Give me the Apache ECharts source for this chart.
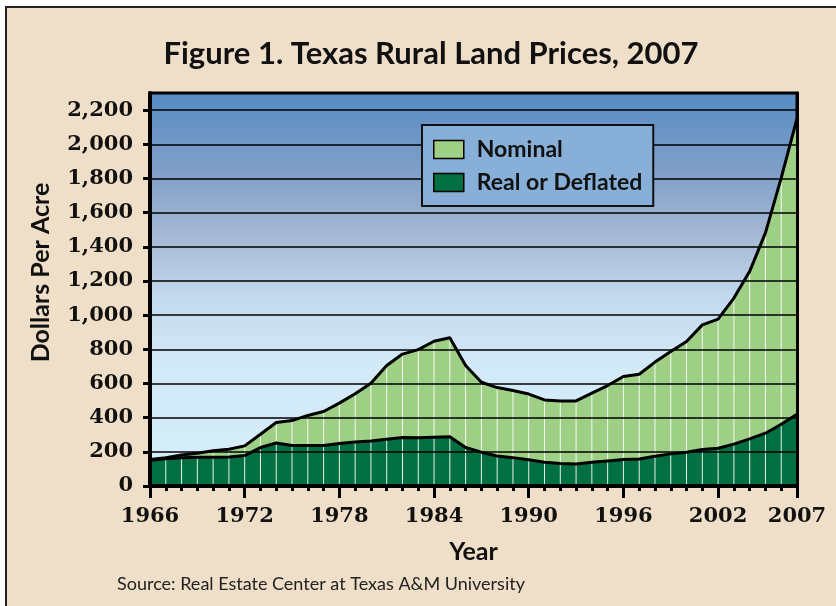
<!DOCTYPE html>
<html><head><meta charset="utf-8">
<script src="https://cdn.jsdelivr.net/npm/echarts@6/dist/echarts.min.js"></script>
<style>html,body{margin:0;padding:0;background:#fff}#c{width:836px;height:606px}</style>
</head><body><div id="c"></div>
<script>
const years = ['1966','1967','1968','1969','1970','1971','1972','1973','1974','1975','1976','1977','1978','1979','1980','1981','1982','1983','1984','1985','1986','1987','1988','1989','1990','1991','1992','1993','1994','1995','1996','1997','1998','1999','2000','2001','2002','2003','2004','2005','2006','2007'];
const nominal = [155,166,182,192,206,215,235,303,372,383,413,436,485,540,602,705,772,798,847,868,705,607,576,559,538,504,498,498,543,588,641,654,725,787,846,943,977,1100,1256,1481,1803,2150];
const real = [150,160,166,168,168,170,178,225,252,237,237,237,249,257,264,274,284,282,286,288,225,198,176,166,153,139,131,129,139,147,155,158,174,188,198,213,221,245,276,309,361,420];
const yTicks = [0,200,400,600,800,1000,1200,1400,1600,1800,2000,2200];
const xLabelYears = ['1966','1972','1978','1984','1990','1996','2002','2007'];

const lightGreen = '#9dcf84';
const darkGreen = '#006f41';
const serifBold = {fontFamily:'DejaVu Serif', fontWeight:'bold', fontSize:21, color:'#111'};
const sansBold = {fontFamily:'Lato', fontWeight:'bold', color:'#111'};

const chart = echarts.init(document.getElementById('c'));
chart.setOption({
  animation:false,
  backgroundColor:'#fff',
  graphic:{elements:[{type:'rect', z:-100, shape:{x:6,y:7,width:840,height:610}, style:{fill:'#efdfc9', stroke:'#222', lineWidth:2}}]},
  title:[
    {text:'Figure 1. Texas Rural Land Prices, 2007', left:426, top:33, textAlign:'center',
     textStyle:Object.assign({fontSize:31}, sansBold)},
    {text:'Source: Real Estate Center at Texas A&M University', left:112, top:570,
     textStyle:{fontFamily:'Lato', fontWeight:'normal', fontSize:18, color:'#222'}}
  ],
  legend:{
    data:['Nominal','Real or Deflated'], orient:'vertical', left:422, top:125,
    icon:'rect', itemWidth:30, itemHeight:18, itemGap:10,
    padding:[13,11,12,11],
    backgroundColor:'#87afd7', borderColor:'#111', borderWidth:2,
    itemStyle:{borderColor:'#000', borderWidth:1.5},
    textStyle:Object.assign({fontSize:23, lineHeight:18, padding:[0,0,0,8]}, sansBold),
    selectedMode:false
  },
  grid:{left:150, right:39, top:93, bottom:120, show:true, borderColor:'#000', borderWidth:3,
    backgroundColor:new echarts.graphic.LinearGradient(0,0,0,1,[
      {offset:0, color:'#568bc3'},
      {offset:0.2, color:'#809fc8'},
      {offset:0.36, color:'#a4b7d4'},
      {offset:0.52, color:'#c3d9ee'},
      {offset:0.68, color:'#d2e9f7'},
      {offset:1, color:'#d6effb'}
    ])},
  xAxis:[
    {type:'category', data:years, boundaryGap:false, position:'bottom', z:5,
     axisLine:{lineStyle:{color:'#000', width:4}},
     axisTick:{interval:0, length:5, lineStyle:{color:'#000', width:3}},
     axisLabel:Object.assign({interval:(i,v)=>xLabelYears.includes(v), margin:20}, serifBold),
     splitLine:{show:false},
     name:'Year', nameLocation:'middle', nameGap:53,
     nameTextStyle:Object.assign({fontSize:25}, sansBold)},
    {type:'category', data:years, boundaryGap:false, position:'bottom', z:5,
     axisLine:{show:false},
     axisTick:{interval:(i,v)=>xLabelYears.includes(v), length:12, lineStyle:{color:'#000', width:3}},
     axisLabel:{show:false}, splitLine:{show:false}}
  ],
  yAxis:[
    {type:'value', min:0, max:2300, interval:200, position:'left', z:3,
     axisLine:{show:true, lineStyle:{color:'#000', width:4}},
     axisTick:{show:true, length:7, customValues:yTicks, lineStyle:{color:'#000', width:3}},
     axisLabel:Object.assign({customValues:yTicks, margin:17, formatter:v=>v.toLocaleString('en-US')}, serifBold),
     splitLine:{show:true, lineStyle:{color:'#000', width:1.5}},
     name:'Dollars Per Acre', nameLocation:'middle', nameGap:97,
     nameTextStyle:Object.assign({fontSize:25, padding:[0,0,0,34]}, sansBold)},
    {type:'value', min:0, max:2300, position:'right', z:5,
     axisLine:{show:true, lineStyle:{color:'#000', width:3}},
     axisTick:{show:false}, axisLabel:{show:false}, splitLine:{show:false}}
  ],
  series:[
    {name:'Nominal', type:'line', data:nominal, symbol:'none', z:2,
     lineStyle:{width:0}, itemStyle:{color:lightGreen}, areaStyle:{color:lightGreen, opacity:1}},
    {name:'Real or Deflated', type:'line', data:real, symbol:'none', z:2,
     lineStyle:{width:0}, itemStyle:{color:darkGreen}, areaStyle:{color:darkGreen, opacity:1}},
    {name:'dividers', type:'bar', data:nominal, barWidth:1, z:2, silent:true,
     itemStyle:{color:'rgba(255,255,255,0.9)'}},
    {name:'nominalLine', type:'line', data:nominal, symbol:'none', z:4, silent:true,
     lineStyle:{color:'#000', width:3}},
    {name:'realLine', type:'line', data:real, symbol:'none', z:4, silent:true,
     lineStyle:{color:'#000', width:3}}
  ]
});
</script></body></html>
